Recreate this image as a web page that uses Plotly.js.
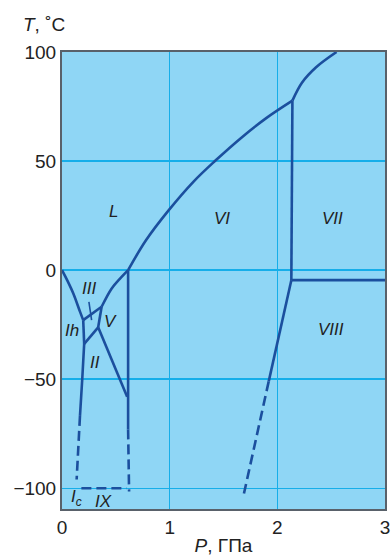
<!DOCTYPE html>
<html>
<head>
<meta charset="utf-8">
<script src="https://cdn.plot.ly/plotly-3.0.1.min.js"></script>
<style>html,body{margin:0;padding:0;background:#fff}#chart{width:391px;height:556px}</style>
</head>
<body>
<div id="chart"></div>
<script>
// Phase boundaries of water: pressure P (GPa), temperature T (°C)
const ihL_P = [0, 0.05, 0.105, 0.167, 0.197];
const ihL_T = [0, -4.8, -10.7, -19, -22.9];
const ihIII_P = [0.197, 0.206];
const ihIII_T = [-22.9, -33.8];
const ihII_P = [0.206, 0.188, 0.167];
const ihII_T = [-33.8, -50, -66.8];
const ihIIdash_P = [0.167, 0.136];
const ihIIdash_T = [-66.8, -96];
const iiiL_P = [0.197, 0.368];
const iiiL_T = [-22.9, -16.8];
const iiiII_P = [0.206, 0.336];
const iiiII_T = [-33.8, -26.2];
const iiiV_P = [0.368, 0.336];
const iiiV_T = [-16.8, -26.2];
const vL_P = [0.368, 0.46, 0.537, 0.614];
const vL_T = [-16.8, -8.5, -4, 0];
const iiV_P = [0.336, 0.605];
const iiV_T = [-26.2, -58];
const vVI_P = [0.614, 0.614, 0.614];
const vVI_T = [0, -58, -73];
const iiVIdash_P = [0.614, 0.623];
const iiVIdash_T = [-73, -101.5];
const icIXdash_P = [0.18, 0.6];
const icIXdash_T = [-100, -100];
const viL_P = [0.614, 0.78, 0.99, 1.22, 1.42, 1.68, 1.90, 2.14];
const viL_T = [0, 13.7, 27.4, 40.5, 50, 61.3, 69.8, 77.7];
const viiL_P = [2.14, 2.23, 2.36, 2.55];
const viiL_T = [77.7, 86, 93, 100];
const viVII_P = [2.14, 2.13];
const viVII_T = [77.7, -4.6];
const viiVIII_P = [2.13, 3];
const viiVIII_T = [-4.6, -4.6];
const viVIII_P = [2.13, 1.92];
const viVIII_T = [-4.6, -51];
const viVIIIdash_P = [1.92, 1.69];
const viVIIIdash_T = [-51, -102.4];
const leader_P = [0.25, 0.275];
const leader_T = [-14.5, -22.9];

// Phase labels
const labelText = ['L', 'VI', 'VII', 'VIII', 'III', 'V', 'Ih', 'II', 'I<sub>c</sub>', 'IX'];
const labelP = [0.48, 1.49, 2.51, 2.50, 0.25, 0.454, 0.095, 0.306, 0.134, 0.383];
const labelT = [26.7, 23.6, 23.8, -27, -8.2, -23.6, -27.8, -42.5, -104.5, -106];

const xTicks = [0, 1, 2, 3];
const yTicks = [-100, -50, 0, 50, 100];

const LINE = '#1b4f9e';
function seg(P, T, opts) {
  opts = opts || {};
  return {x: P, y: T, type: 'scatter', mode: 'lines', hoverinfo: 'skip', showlegend: false,
          line: {color: LINE, width: opts.w || 2.6, dash: opts.dash || 'solid',
                 shape: opts.smooth ? 'spline' : 'linear', smoothing: 1}};
}
const D = {dash: '10px,5px'};
const S = {smooth: true};
const traces = [
  seg(ihL_P, ihL_T, S), seg(ihIII_P, ihIII_T), seg(ihII_P, ihII_T, S), seg(ihIIdash_P, ihIIdash_T, D),
  seg(iiiL_P, iiiL_T), seg(iiiII_P, iiiII_T), seg(iiiV_P, iiiV_T), seg(vL_P, vL_T, S),
  seg(iiV_P, iiV_T), seg(vVI_P, vVI_T), seg(iiVIdash_P, iiVIdash_T, D), seg(icIXdash_P, icIXdash_T, D),
  seg(viL_P, viL_T, S), seg(viiL_P, viiL_T, S), seg(viVII_P, viVII_T), seg(viiVIII_P, viiVIII_T),
  seg(viVIII_P, viVIII_T), seg(viVIIIdash_P, viVIIIdash_T, D), seg(leader_P, leader_T, {w: 1.6})
];

const FONT = 'Liberation Sans, Arial, Helvetica, sans-serif';
const annotations = labelText.map((t, i) => ({
  x: labelP[i], y: labelT[i], xref: 'x', yref: 'y', text: '<i>' + t + '</i>', showarrow: false,
  font: {family: FONT, size: 17, color: '#222'}, xanchor: 'center', yanchor: 'middle'
}));
annotations.push({
  xref: 'paper', yref: 'paper', x: -0.128, y: 1.061, xanchor: 'left', yanchor: 'middle',
  text: '<i>T</i>, ˚C', showarrow: false, font: {family: FONT, size: 19, color: '#222'}
});

const layout = {
  width: 391, height: 556,
  margin: {l: 62, r: 6, t: 52, b: 47},
  paper_bgcolor: '#ffffff', plot_bgcolor: '#8fd6f5',
  font: {family: FONT, size: 19, color: '#222'},
  xaxis: {range: [0, 3], tickvals: xTicks, ticks: '', showgrid: true, gridcolor: '#16aee9', gridwidth: 1.5,
          zeroline: false, showline: true, mirror: true, linecolor: '#59616a', linewidth: 2,
          ticklabeloverflow: 'allow',
          title: {text: '<i>P</i>, ГПа', font: {family: FONT, size: 19, color: '#222'}, standoff: 4},
          tickfont: {family: FONT, size: 19, color: '#222'}, fixedrange: true},
  yaxis: {range: [-109.5, 100], tickvals: yTicks, ticks: '', showgrid: true, gridcolor: '#16aee9', gridwidth: 1.5,
          zeroline: false, showline: true, mirror: true, linecolor: '#59616a', linewidth: 2,
          ticklabeloverflow: 'allow',
          tickfont: {family: FONT, size: 19, color: '#222'}, fixedrange: true},
  annotations: annotations
};

Plotly.newPlot('chart', traces, layout, {displayModeBar: false, staticPlot: true});
</script>
</body>
</html>
